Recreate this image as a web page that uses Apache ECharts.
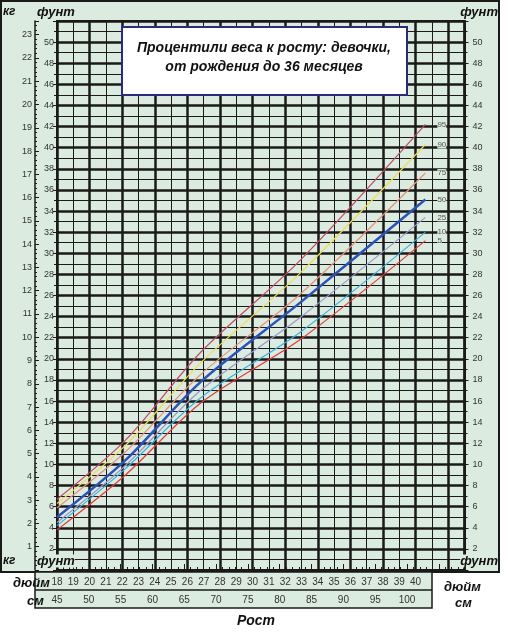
<!DOCTYPE html>
<html><head><meta charset="utf-8">
<script src="https://cdn.jsdelivr.net/npm/echarts@6/dist/echarts.min.js"></script>
<style>html,body{margin:0;padding:0;background:#fff}#c{width:508px;height:638px}</style>
</head><body><div id="c"></div>
<script>
const heightIn = [18, 22.2, 26.8, 32.9, 40.6];
const p95 = [6.7, 12.3, 20.6, 29.3, 42.2];
const p90 = [6.3, 11.8, 19.6, 28.1, 40.3];
const p75 = [5.9, 11.2, 18.5, 26.1, 37.6];
const p50 = [5.0, 10.4, 17.8, 25.3, 35.1];
const p25 = [4.5, 9.9, 17.0, 23.9, 33.4];
const p10 = [4.2, 9.6, 16.3, 22.5, 32.0];
const p5 = [3.8, 9.0, 15.8, 21.8, 31.2];
const names = ['95', '90', '75', '50', '25', '10', '5'];
const colors = ['#c24a60', '#f0dc50', '#e8907e', '#2c52b8', '#9a98c8', '#38b0de', '#e03a3a'];

const chart = echarts.init(document.getElementById('c'));
const green = '#dcebe0';
const dark = '#1a1a1a';
const ax = { fontSize: 9, color: '#333', fontFamily: 'Liberation Sans' };
const hdr = { fontFamily: 'Liberation Sans', fontSize: 13, fontWeight: 'bold', fontStyle: 'italic', fill: '#111' };

function mk(vals, i) {
  return {
    name: names[i], type: 'line', smooth: 0.3, symbol: 'none',
    data: heightIn.map((x, k) => [x, vals[k]]),
    lineStyle: { color: colors[i], width: names[i] === '50' ? 2.5 : 1.2 },
    endLabel: { show: true, formatter: names[i], color: '#555', fontSize: 8, distance: 12, backgroundColor: green },
    z: 5
  };
}

chart.setOption({
  backgroundColor: '#fff',
  animation: false,
  graphic: [
    { type: 'rect', z: -10, shape: { x: 1, y: 1, width: 498, height: 571 }, style: { fill: green, stroke: dark, lineWidth: 2 } },
    { type: 'rect', z: -10, shape: { x: 35, y: 572, width: 397, height: 36 }, style: { fill: green, stroke: dark, lineWidth: 1.5 } },
    { type: 'line', z: -9, shape: { x1: 35, y1: 590, x2: 432, y2: 590 }, style: { stroke: dark, lineWidth: 1.5 } },
    { type: 'rect', z: 20, shape: { x: 122, y: 27, width: 285, height: 68 }, style: { fill: '#fff', stroke: '#2c2c7a', lineWidth: 2 } },
    { type: 'text', z: 21, x: 264, y: 48, style: Object.assign({}, hdr, { text: 'Процентили веса к росту: девочки,', align: 'center', verticalAlign: 'middle', fontSize: 14 }) },
    { type: 'text', z: 21, x: 264, y: 67, style: Object.assign({}, hdr, { text: 'от рождения до 36 месяцев', align: 'center', verticalAlign: 'middle', fontSize: 14 }) },
    { type: 'text', z: 21, x: 3, y: 12, style: Object.assign({}, hdr, { text: 'кг', verticalAlign: 'middle', fontSize: 12 }) },
    { type: 'text', z: 21, x: 37, y: 12, style: Object.assign({}, hdr, { text: 'фунт', verticalAlign: 'middle', backgroundColor: green }) },
    { type: 'text', z: 21, x: 498, y: 12, style: Object.assign({}, hdr, { text: 'фунт', align: 'right', verticalAlign: 'middle', backgroundColor: green }) },
    { type: 'text', z: 21, x: 3, y: 561, style: Object.assign({}, hdr, { text: 'кг', verticalAlign: 'middle', fontSize: 12, backgroundColor: green }) },
    { type: 'text', z: 21, x: 37, y: 561, style: Object.assign({}, hdr, { text: 'фунт', verticalAlign: 'middle', backgroundColor: green }) },
    { type: 'text', z: 21, x: 498, y: 561, style: Object.assign({}, hdr, { text: 'фунт', align: 'right', verticalAlign: 'middle', backgroundColor: green }) },
    { type: 'text', z: 21, x: 13, y: 583, style: Object.assign({}, hdr, { text: 'дюйм', verticalAlign: 'middle' }) },
    { type: 'text', z: 21, x: 27, y: 601, style: Object.assign({}, hdr, { text: 'см', verticalAlign: 'middle' }) },
    { type: 'text', z: 21, x: 444, y: 587, style: Object.assign({}, hdr, { text: 'дюйм', verticalAlign: 'middle' }) },
    { type: 'text', z: 21, x: 455, y: 603, style: Object.assign({}, hdr, { text: 'см', verticalAlign: 'middle' }) },
    { type: 'text', z: 21, x: 256, y: 621, style: Object.assign({}, hdr, { text: 'Рост', align: 'center', verticalAlign: 'middle', fontSize: 14 }) }
  ],
  grid: { left: 57, right: 43.5, top: 21, bottom: 68, outerBoundsMode: 'none', containLabel: false,
    show: true, borderColor: dark, borderWidth: 2 },
  xAxis: [
    { type: 'value', min: 18, max: 43, interval: 1, position: 'bottom',
      axisLine: { show: false }, axisTick: { show: false },
      axisLabel: { ...ax, fontSize: 10, margin: 7, formatter: v => (v <= 40 ? v : '') },
      splitLine: { lineStyle: { color: dark, width: 1 } } },
    { type: 'value', min: 18, max: 43, interval: 2, position: 'bottom',
      axisLine: { show: false }, axisTick: { show: false }, axisLabel: { show: false },
      splitLine: { lineStyle: { color: dark, width: 2.5 } } },
    { type: 'value', min: 45, max: 109.03, interval: 5, position: 'bottom', offset: 20,
      axisLine: { show: false },
      axisTick: { inside: true, length: 6, lineStyle: { color: dark } },
      minorTick: { show: true, splitNumber: 5, length: 3, lineStyle: { color: dark } },
      axisLabel: { ...ax, fontSize: 10, margin: 5, formatter: v => (v <= 100 ? v : '') },
      splitLine: { show: false } }
  ],
  yAxis: [
    { type: 'value', min: 0, max: 52, interval: 2, position: 'left',
      axisLine: { show: true, lineStyle: { color: dark, width: 2 } },
      axisTick: { length: 4, lineStyle: { color: dark } },
      minorTick: { show: true, splitNumber: 2, length: 3, lineStyle: { color: dark } },
      axisLabel: { ...ax, margin: 3, formatter: v => (v > 0 && v < 52 ? v : '') },
      splitLine: { lineStyle: { color: dark, width: 2.5 } },
      minorSplitLine: { show: true, lineStyle: { color: dark, width: 1 } } },
    { type: 'value', min: 0, max: 52 / 2.20462, interval: 1, position: 'left', offset: 22,
      axisLine: { show: true, lineStyle: { color: dark, width: 1.5 } },
      axisTick: { length: 4, inside: true, lineStyle: { color: dark } },
      minorTick: { show: true, splitNumber: 5, length: 2, lineStyle: { color: dark } },
      axisLabel: { ...ax, margin: 3, showMaxLabel: false, formatter: v => (v > 0 && Number.isInteger(v) ? v : '') },
      splitLine: { show: false } },
    { type: 'value', min: 0, max: 52, interval: 2, position: 'right',
      axisLine: { show: true, lineStyle: { color: dark, width: 2 } },
      axisTick: { length: 4, lineStyle: { color: dark } },
      minorTick: { show: true, splitNumber: 2, length: 3, lineStyle: { color: dark } },
      axisLabel: { ...ax, margin: 8, formatter: v => (v > 0 && v < 52 ? v : '') },
      splitLine: { show: false } }
  ],
  series: [p95, p90, p75, p50, p25, p10, p5].map(mk)
});
</script></body></html>
